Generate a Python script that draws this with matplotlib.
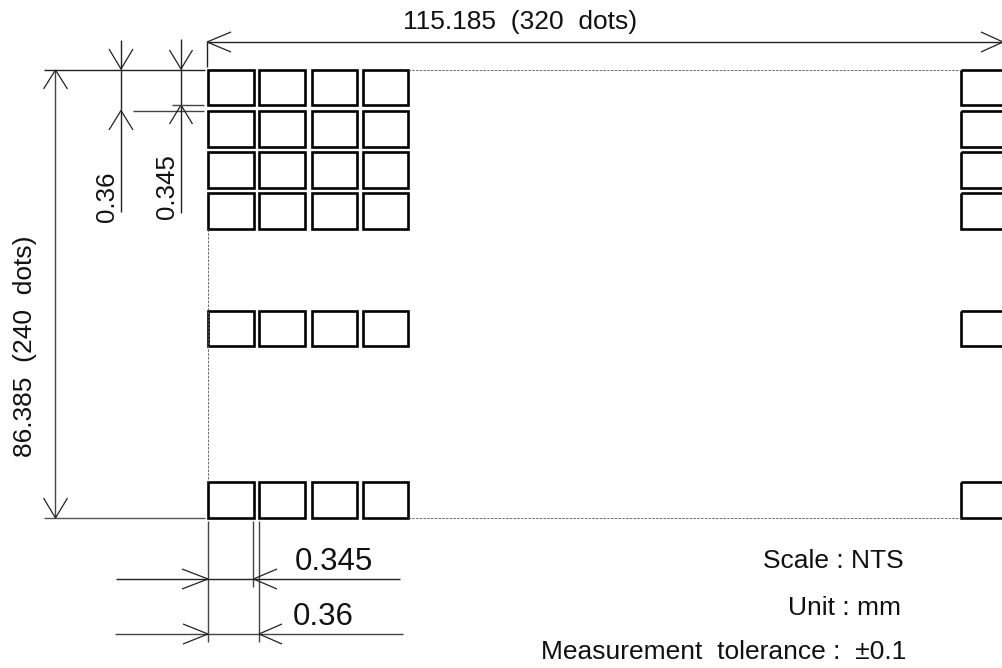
import matplotlib
matplotlib.use("Agg")
import matplotlib.pyplot as plt
from matplotlib.patches import Rectangle

plt.rcParams["font.family"] = ["Liberation Sans", "DejaVu Sans"]

# dot grid, in pixels of the drawing
col_left = [208, 259, 312, 363]
col_right = [254, 305, 357, 408]
row_top = [70, 111, 152, 193, 311, 482]
row_bottom = [105, 147, 188, 229, 346, 518]
last_col_left = 961
last_col_right = 1010

width_label = "115.185  (320  dots)"
height_label = "86.385  (240  dots)"
dot_labels = ["0.345", "0.36"]
notes = ["Scale : NTS", "Unit : mm", "Measurement  tolerance :  ±0.1"]

fig = plt.figure(figsize=(10.03, 6.68), dpi=100)
ax = fig.add_axes([0, 0, 1, 1])
ax.set_xlim(0, 1003)
ax.set_ylim(668, 0)
ax.axis("off")


def line(x0, y0, x1, y1, lw=1.0, color="#222222", **kw):
    ax.plot([x0, x1], [y0, y1], color=color, lw=lw, solid_capstyle="butt", **kw)


def head(tx, ty, bx, by, spread):
    # open V arrow head, tip at tx,ty
    if tx == bx:
        line(tx, ty, bx - spread, by, lw=0.9)
        line(tx, ty, bx + spread, by, lw=0.9)
    else:
        line(tx, ty, bx, by - spread, lw=0.9)
        line(tx, ty, bx, by + spread, lw=0.9)


# dots
for t, b in zip(row_top, row_bottom):
    for l, r in zip(col_left, col_right):
        ax.add_patch(Rectangle((l, t), r - l, b - t, fill=False, ec="black", lw=1.9))
    ax.add_patch(Rectangle((last_col_left, t), last_col_right - last_col_left, b - t,
                           fill=False, ec="black", lw=1.9))

# dashed outline of the panel
for y in (69.5, 518):
    line(408, y, 961, y, lw=0.6, color="#555555", ls=(0, (3, 1.5)))
line(208, 229, 208, 482, lw=0.6, color="#555555", ls=(0, (3, 1.5)))

# overall width
line(207, 42, 1003, 42)
line(207, 42, 207, 67)
head(207, 42, 231, 42, 10)
head(1003, 42, 981, 42, 10)
ax.text(520, 22, width_label, fontsize=19, ha="center", va="center", color="#111111")

# overall height
line(44, 69.5, 205, 69.5)
line(44, 518, 205, 518, color="#555555")
line(55.5, 70, 55.5, 518, color="#444444")
head(55.5, 70, 55.5, 89, 12)
head(55.5, 518, 55.5, 498, 12)
ax.text(25, 346, height_label, fontsize=19, rotation=90, ha="center", va="center", color="#111111")

# dot pitch, vertical
line(121, 40, 121, 212)
head(121, 69, 121, 49, 12)
head(121, 110.5, 121, 130, 12)
line(133, 110.5, 204, 110.5, color="#444444")
ax.text(107, 197, dot_labels[1], fontsize=18.6, rotation=90, ha="center", va="center", color="#111111")

# dot size, vertical
line(181, 39, 181, 213)
head(181, 69, 181, 50, 11.5)
head(181, 105, 181, 124, 11.5)
line(172, 105, 204, 105, color="#444444")
ax.text(167, 187, dot_labels[0], fontsize=18.6, rotation=90, ha="center", va="center", color="#111111")

# dot size and pitch, horizontal
line(208, 521, 208, 642, color="#444444")
line(253.5, 521, 253.5, 587, color="#444444")
line(259, 521, 259, 642, color="#444444")
line(116, 579, 400, 579)
head(208, 579, 182, 579, 10)
head(253.5, 579, 277, 579, 10)
line(115, 634, 403, 634, color="#444444")
head(208, 634, 183, 634, 10)
head(259, 634, 282, 634, 10)
ax.text(334, 562, dot_labels[0], fontsize=22.5, ha="center", va="center", color="#111111")
ax.text(323, 617, dot_labels[1], fontsize=22.5, ha="center", va="center", color="#111111")

# notes
for note, xr, y in zip(notes, [904, 901, 906], [561, 608, 652]):
    ax.text(xr, y, note, fontsize=19, ha="right", va="center", color="#111111")

fig.savefig("out.png", dpi=100)
